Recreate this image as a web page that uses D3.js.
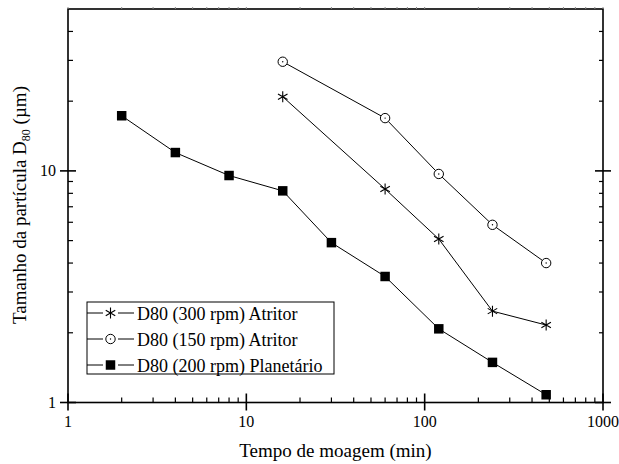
<!DOCTYPE html>
<html>
<head>
<meta charset="utf-8">
<script src="https://cdn.jsdelivr.net/npm/d3@7"></script>
<style>
    html, body { margin: 0; padding: 0; background: #fff; }
    svg { display: block; font-family: "Liberation Serif", "Times New Roman", serif; }
</style>
</head>
<body>
<div id="graph"></div>
<script>
"use strict";

// tempo de moagem (min)
const tempoPlanetario = [2, 4, 8, 16, 30, 60, 120, 240, 480];
const tempoAtritor = [16, 60, 120, 240, 480];

// D80 (um)
const d80Atritor300 = [20.9, 8.35, 5.08, 2.48, 2.16];
const d80Atritor150 = [29.6, 16.9, 9.7, 5.85, 4.0];
const d80Planetario = [17.3, 12.0, 9.55, 8.2, 4.9, 3.5, 2.08, 1.49, 1.08];

const seriesNames = ["D80 (300 rpm) Atritor", "D80 (150 rpm) Atritor", "D80 (200 rpm) Planetário"];
const seriesSymbols = ["star", "circle", "square"];

const xMajor = [1, 10, 100, 1000];
const xMinor = [2, 3, 4, 5, 6, 7, 8, 9, 20, 30, 40, 50, 60, 70, 80, 90, 200, 300, 400, 500, 600, 700, 800, 900];
const yMajor = [1, 10];
const yMinor = [2, 3, 4, 5, 6, 7, 8, 9, 20, 30, 40];

(function() {
    const svgSize = { width: 619, height: 464 };
    const plot = { left: 68, right: 603, top: 9, bottom: 402.5 };

    window.addEventListener("load", init);

    function init() {
        const svg = d3.select("#graph")
            .append("svg")
                .attr("width", svgSize.width)
                .attr("height", svgSize.height);

        const x = d3.scaleLog().domain([1, 1000]).range([plot.left, plot.right]);
        const y = d3.scaleLog().domain([1, 50]).range([plot.bottom, plot.top]);

        drawAxes(svg, x, y);

        const series = [
            { name: seriesNames[0], sym: seriesSymbols[0], pts: d3.zip(tempoAtritor, d80Atritor300) },
            { name: seriesNames[1], sym: seriesSymbols[1], pts: d3.zip(tempoAtritor, d80Atritor150) },
            { name: seriesNames[2], sym: seriesSymbols[2], pts: d3.zip(tempoPlanetario, d80Planetario) },
        ];

        const line = d3.line().x(d => x(d[0])).y(d => y(d[1]));

        series.forEach(s => {
            svg.append("path")
                .attr("d", line(s.pts))
                .attr("fill", "none")
                .attr("stroke", "#000")
                .attr("stroke-width", 1);
            s.pts.forEach(p => marker(svg, s.sym, x(p[0]), y(p[1])));
        });

        drawLegend(svg, series);

        // axis titles
        svg.append("text")
            .attr("x", (plot.left + plot.right) / 2)
            .attr("y", 457)
            .attr("text-anchor", "middle")
            .attr("font-size", 19)
            .text("Tempo de moagem (min)");

        const yt = svg.append("text")
            .attr("transform", "translate(26," + 205 + ") rotate(-90)")
            .attr("text-anchor", "middle")
            .attr("font-size", 19);
        yt.append("tspan").text("Tamanho da partícula D");
        yt.append("tspan").attr("font-size", 12).attr("dy", 4).text("80");
        yt.append("tspan").attr("dy", -4).text(" (µm)");
    }

    function drawAxes(svg, x, y) {
        const g = svg.append("g").attr("stroke", "#000").attr("fill", "none");

        g.append("rect")
            .attr("x", plot.left).attr("y", plot.top)
            .attr("width", plot.right - plot.left)
            .attr("height", plot.bottom - plot.top)
            .attr("stroke-width", 1.6);

        // bottom
        g.selectAll(".bmin").data(xMinor).enter().append("line")
            .attr("x1", d => x(d)).attr("x2", d => x(d))
            .attr("y1", plot.bottom).attr("y2", plot.bottom - 5)
            .attr("stroke-width", 1.2);
        g.selectAll(".bmaj").data(xMajor).enter().append("line")
            .attr("x1", d => x(d)).attr("x2", d => x(d))
            .attr("y1", plot.bottom + 8).attr("y2", plot.bottom - 9)
            .attr("stroke-width", 1.6);
        // top (tiny outward ticks)
        g.selectAll(".tmin").data(xMinor.concat(xMajor)).enter().append("line")
            .attr("x1", d => x(d)).attr("x2", d => x(d))
            .attr("y1", plot.top).attr("y2", plot.top - 2)
            .attr("stroke", "#888")
            .attr("stroke-width", 1);
        // left
        g.selectAll(".lmin").data(yMinor).enter().append("line")
            .attr("x1", plot.left).attr("x2", plot.left + 5)
            .attr("y1", d => y(d)).attr("y2", d => y(d))
            .attr("stroke-width", 1.2);
        g.selectAll(".lmaj").data(yMajor).enter().append("line")
            .attr("x1", plot.left - 8).attr("x2", plot.left + 8)
            .attr("y1", d => y(d)).attr("y2", d => y(d))
            .attr("stroke-width", 1.6);
        // right
        g.selectAll(".rmin").data(yMinor).enter().append("line")
            .attr("x1", plot.right).attr("x2", plot.right - 4)
            .attr("y1", d => y(d)).attr("y2", d => y(d))
            .attr("stroke-width", 1.2);
        g.selectAll(".rmaj").data(yMajor).enter().append("line")
            .attr("x1", plot.right - 8).attr("x2", plot.right + 8)
            .attr("y1", d => y(d)).attr("y2", d => y(d))
            .attr("stroke-width", 1.6);

        const t = svg.append("g").attr("font-size", 16).attr("fill", "#000");
        t.selectAll(".xl").data(xMajor).enter().append("text")
            .attr("x", d => x(d)).attr("y", 427)
            .attr("text-anchor", "middle")
            .text(d => d);
        t.selectAll(".yl").data(yMajor).enter().append("text")
            .attr("x", 56).attr("y", d => y(d))
            .attr("dy", "0.35em")
            .attr("text-anchor", "end")
            .text(d => d);
    }

    function marker(svg, sym, cx, cy) {
        const g = svg.append("g").attr("transform", "translate(" + cx + "," + cy + ")");
        if (sym === "square") {
            g.append("path")
                .attr("d", d3.symbol(d3.symbolSquare, 90)())
                .attr("fill", "#000");
        } else if (sym === "circle") {
            g.append("circle").attr("r", 4.7)
                .attr("fill", "#fff").attr("stroke", "#000").attr("stroke-width", 1);
            g.append("circle").attr("r", 0.7).attr("fill", "#000");
        } else {
            const r = 5.5;
            const p = d3.path();
            [90, 30, -30].forEach(a => {
                const rad = a * Math.PI / 180;
                p.moveTo(-r * Math.cos(rad), -r * Math.sin(rad));
                p.lineTo(r * Math.cos(rad), r * Math.sin(rad));
            });
            g.append("path").attr("d", p.toString())
                .attr("stroke", "#000").attr("stroke-width", 1.1).attr("fill", "none");
        }
    }

    function drawLegend(svg, series) {
        const box = { x: 87, y: 302, w: 247, h: 72 };
        const rowY = d3.scaleLinear().domain([0, 2]).range([313, 365]);
        const lg = svg.append("g");
        lg.append("rect")
            .attr("x", box.x).attr("y", box.y)
            .attr("width", box.w).attr("height", box.h)
            .attr("fill", "#fff").attr("stroke", "#000").attr("stroke-width", 1);

        series.forEach((s, i) => {
            const yy = rowY(i);
            lg.append("line").attr("x1", box.x).attr("x2", 103)
                .attr("y1", yy).attr("y2", yy).attr("stroke", "#000");
            lg.append("line").attr("x1", 118).attr("x2", 134)
                .attr("y1", yy).attr("y2", yy).attr("stroke", "#000");
            marker(lg, s.sym, 110.5, yy);
            lg.append("text")
                .attr("x", 137).attr("y", yy + 6.5)
                .attr("font-size", 18)
                .text(s.name);
        });
    }
})();
</script>
</body>
</html>
